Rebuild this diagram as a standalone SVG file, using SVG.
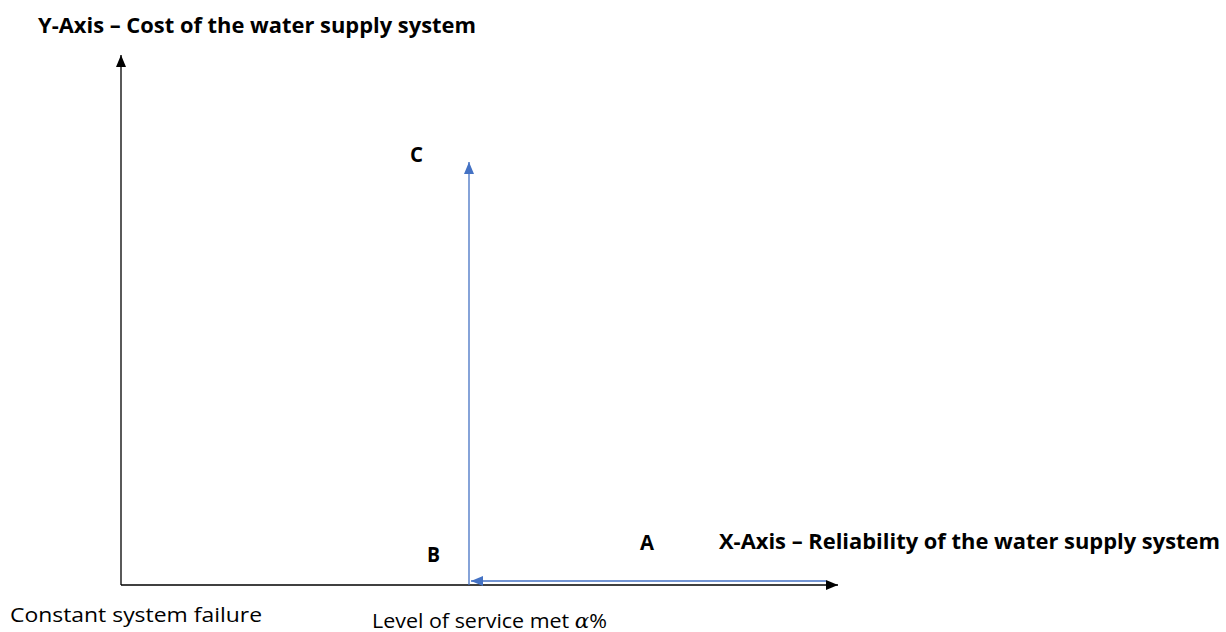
<svg xmlns="http://www.w3.org/2000/svg" width="1226" height="632" viewBox="0 0 1226 632">
  <style>
    .lbl { font-family: "Open Sans", "Liberation Sans", sans-serif; font-size: 20.5px; fill: #000; }
    .b { font-weight: bold; }
    .axis { stroke: #000; stroke-width: 1.3; fill: none; }
    .blue { stroke: #4472c4; stroke-width: 1.3; fill: none; }
  </style>
  <defs>
    <marker id="arrowBlack" viewBox="0 0 12 10" refX="12" refY="5" markerWidth="12" markerHeight="10" markerUnits="userSpaceOnUse" orient="auto">
      <path d="M0,0 L12,5 L0,10 Z" fill="#000"/>
    </marker>
    <marker id="arrowBlue" viewBox="0 0 12 10" refX="12" refY="5" markerWidth="12" markerHeight="10" markerUnits="userSpaceOnUse" orient="auto">
      <path d="M0,0 L12,5 L0,10 Z" fill="#4472c4"/>
    </marker>
  </defs>

  <g id="connectors">
    <!-- axes -->
    <line class="axis" x1="121" y1="585" x2="121" y2="55" marker-end="url(#arrowBlack)"/>
    <line class="axis" x1="121" y1="585" x2="838" y2="585" marker-end="url(#arrowBlack)"/>
    <!-- B to C -->
    <line class="blue" x1="469" y1="585" x2="469" y2="162" marker-end="url(#arrowBlue)"/>
    <!-- A back to B -->
    <line class="blue" x1="826" y1="581" x2="471" y2="581" marker-end="url(#arrowBlue)"/>
  </g>

  <g id="y-axis-title">
    <text class="lbl b" x="38" y="33" textLength="438" lengthAdjust="spacingAndGlyphs">Y-Axis – Cost of the water supply system</text>
  </g>
  <g id="x-axis-title">
    <text class="lbl b" x="719" y="549" textLength="501" lengthAdjust="spacingAndGlyphs">X-Axis – Reliability of the water supply system</text>
  </g>
  <g id="point-c">
    <text class="lbl b" x="410" y="162" textLength="13" lengthAdjust="spacingAndGlyphs">C</text>
  </g>
  <g id="point-b">
    <text class="lbl b" x="427" y="562" textLength="13" lengthAdjust="spacingAndGlyphs">B</text>
  </g>
  <g id="point-a">
    <text class="lbl b" x="640" y="550" textLength="14" lengthAdjust="spacingAndGlyphs">A</text>
  </g>
  <g id="origin-label">
    <text class="lbl" x="10" y="622" textLength="252" lengthAdjust="spacingAndGlyphs">Constant system failure</text>
  </g>
  <g id="service-label">
    <text class="lbl" x="372" y="628" textLength="235" lengthAdjust="spacingAndGlyphs">Level of service met <tspan font-family="'DejaVu Serif', serif" font-style="italic">α</tspan>%</text>
  </g>
</svg>
